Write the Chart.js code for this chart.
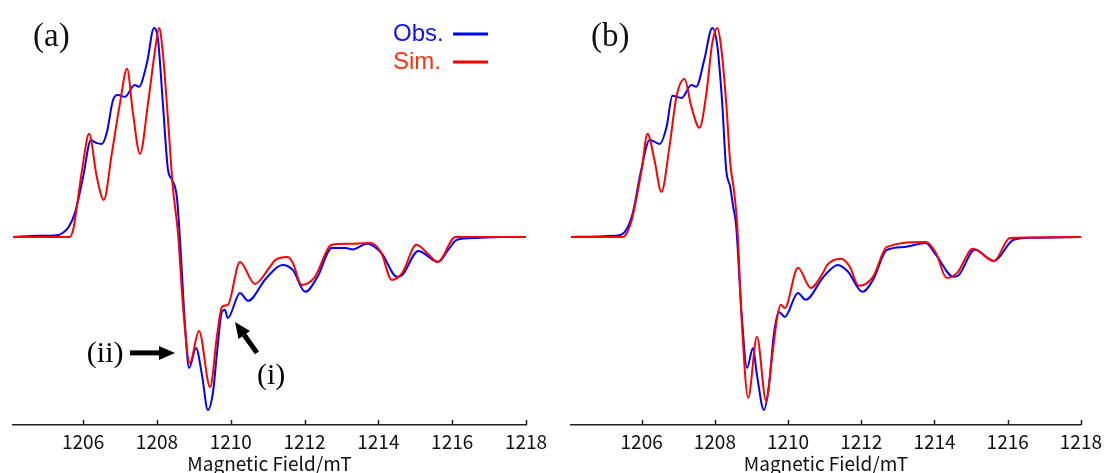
<!DOCTYPE html>
<html lang="en">
<head>
  <meta charset="UTF-8" />
  <title>Spectrum: Obs. vs Sim.</title>
  <script src="https://cdn.jsdelivr.net/npm/chart.js"></script>
  <style>
    body {
      margin: 0;
      background: #fff;
    }
    .wrap {
      position: relative;
      width: 1107px;
      height: 473px;
    }
    .panel {
      position: absolute;
      top: 0;
      height: 473px;
    }
    #pa { left: 0; width: 553px; }
    #pb { left: 553px; width: 554px; }
  </style>
</head>
<body>
  <div class="wrap">
    <div class="panel" id="pa"><canvas id="chartA"></canvas></div>
    <div class="panel" id="pb"><canvas id="chartB"></canvas></div>
  </div>

  <script>
    // field (mT), signal (arb. units, main peak = 1)
    const tickValues = [1206, 1208, 1210, 1212, 1214, 1216, 1218];

    const obsA = [
      [1204.1, 0], [1204.8, 0.005], [1205.3, 0.008], [1205.45, 0.02], [1205.6, 0.045], [1205.78, 0.115],
      [1206.0, 0.287], [1206.21, 0.462], [1206.35, 0.45], [1206.51, 0.445], [1206.64, 0.498], [1206.81, 0.655],
      [1206.94, 0.679], [1207.13, 0.67], [1207.4, 0.727], [1207.51, 0.718], [1207.73, 0.833], [1207.92, 1.0],
      [1208.03, 0.943], [1208.16, 0.641], [1208.3, 0.321], [1208.41, 0.273], [1208.54, 0.19], [1208.62, 0.0],
      [1208.76, -0.42], [1208.87, -0.627], [1209.06, -0.531], [1209.22, -0.66], [1209.38, -0.828], [1209.52, -0.742],
      [1209.63, -0.55], [1209.76, -0.359], [1209.84, -0.349], [1209.92, -0.388], [1210.25, -0.268], [1210.47, -0.306],
      [1210.95, -0.2], [1211.4, -0.134], [1211.68, -0.158], [1212.02, -0.263], [1212.35, -0.191], [1212.74, -0.053],
      [1213.12, -0.053], [1213.3, -0.06], [1213.69, -0.033], [1214.08, -0.077], [1214.51, -0.191], [1214.65, -0.182],
      [1215.08, -0.067], [1215.2, -0.075], [1215.61, -0.12], [1215.9, -0.06], [1216.13, -0.014], [1216.66, -0.005],
      [1217.3, 0], [1218, 0]
    ];

    const simA = [
      [1204.1, 0], [1205.64, 0], [1205.75, 0.05], [1205.83, 0.144], [1206.0, 0.354], [1206.16, 0.493],
      [1206.37, 0.287], [1206.56, 0.177], [1206.78, 0.402], [1207.0, 0.641], [1207.19, 0.804], [1207.35, 0.593],
      [1207.54, 0.397], [1207.76, 0.641], [1207.95, 0.895], [1208.06, 1.0], [1208.16, 0.88], [1208.3, 0.56],
      [1208.43, 0.239], [1208.57, 0.019], [1208.71, -0.34], [1208.89, -0.603], [1209.14, -0.45], [1209.44, -0.718],
      [1209.63, -0.469], [1209.76, -0.335], [1209.92, -0.325], [1210.25, -0.12], [1210.65, -0.225], [1211.06, -0.144],
      [1211.21, -0.11], [1211.54, -0.096], [1211.68, -0.124], [1211.92, -0.23], [1212.26, -0.196], [1212.74, -0.038],
      [1213.2, -0.033], [1213.79, -0.029], [1214.08, -0.077], [1214.36, -0.206], [1214.65, -0.172], [1215.03, -0.038],
      [1215.32, -0.077], [1215.61, -0.12], [1216.09, 0], [1218, 0]
    ];

    const obsB = [
      [1204.07, 0], [1205.27, 0.005], [1205.54, 0.024], [1205.76, 0.115], [1205.97, 0.306], [1206.22, 0.464],
      [1206.49, 0.445], [1206.68, 0.526], [1206.84, 0.675], [1207.09, 0.665], [1207.36, 0.727], [1207.49, 0.718],
      [1207.71, 0.847], [1207.93, 1.0], [1208.07, 0.91], [1208.2, 0.641], [1208.31, 0.321], [1208.42, 0.239],
      [1208.5, 0.144], [1208.58, 0.057], [1208.72, -0.34], [1208.88, -0.627], [1209.04, -0.531], [1209.15, -0.66],
      [1209.34, -0.828], [1209.48, -0.708], [1209.61, -0.469], [1209.75, -0.359], [1209.91, -0.383], [1210.27, -0.268],
      [1210.48, -0.301], [1210.97, -0.191], [1211.36, -0.134], [1211.64, -0.167], [1212.03, -0.263], [1212.32, -0.206],
      [1212.7, -0.062], [1213.18, -0.048], [1213.76, -0.029], [1214.04, -0.086], [1214.52, -0.191], [1214.65, -0.185],
      [1215.1, -0.062], [1215.63, -0.115], [1216.16, -0.014], [1216.7, -0.004], [1218, 0]
    ];

    const simB = [
      [1204.07, 0], [1205.48, 0], [1205.6, 0.02], [1205.73, 0.081], [1206.0, 0.321], [1206.16, 0.493],
      [1206.35, 0.368], [1206.54, 0.215], [1206.76, 0.431], [1206.95, 0.67], [1207.17, 0.756], [1207.36, 0.622],
      [1207.58, 0.522], [1207.77, 0.689], [1207.93, 0.928], [1208.07, 1.0], [1208.17, 0.91], [1208.31, 0.641],
      [1208.42, 0.354], [1208.53, 0.211], [1208.61, 0.057], [1208.74, -0.421], [1208.91, -0.77], [1209.15, -0.478],
      [1209.4, -0.785], [1209.56, -0.579], [1209.7, -0.388], [1209.8, -0.325], [1209.91, -0.34], [1210.27, -0.148],
      [1210.62, -0.244], [1210.97, -0.167], [1211.07, -0.134], [1211.45, -0.105], [1211.69, -0.144], [1211.93, -0.234],
      [1212.32, -0.191], [1212.7, -0.048], [1213.76, -0.024], [1214.04, -0.077], [1214.33, -0.196], [1214.62, -0.172],
      [1215.05, -0.057], [1215.63, -0.115], [1216.06, -0.005], [1218, 0]
    ];

    const OBS_COLOR = '#0000ff';
    const SIM_COLOR = '#ff0000';
    const AXIS_COLOR = '#222';
    const AXIS_FONT = '"Noto Sans CJK JP", "Noto Sans", sans-serif';
    const SERIF = '"Liberation Serif", "DejaVu Serif", serif';

    // ticks pointing up into the plot, like the original
    const inwardTicks = {
      id: 'inwardTicks',
      afterDraw(chart) {
        const sx = chart.scales.x, ctx = chart.ctx;
        ctx.save();
        ctx.strokeStyle = AXIS_COLOR;
        ctx.lineWidth = 1.5;
        tickValues.forEach(v => {
          const px = Math.round(sx.getPixelForValue(v)) + 0.5;
          ctx.beginPath();
          ctx.moveTo(px, sx.top);
          ctx.lineTo(px, sx.top - 5);
          ctx.stroke();
        });
        ctx.restore();
      }
    };

    function panelLabel(text) {
      return {
        id: 'panelLabel',
        afterDraw(chart) {
          const ctx = chart.ctx;
          ctx.save();
          ctx.font = '33px ' + SERIF;
          ctx.fillStyle = '#111';
          ctx.textBaseline = 'middle';
          ctx.fillText(text, chart.chartArea.left + 20, 37);
          ctx.restore();
        }
      };
    }

    const legendA = {
      id: 'legendA',
      afterDraw(chart) {
        const ctx = chart.ctx;
        ctx.save();
        ctx.font = '24px "Liberation Sans", Arial, sans-serif';
        ctx.textBaseline = 'middle';
        [['Obs.', OBS_COLOR, '#1010ff', 34], ['Sim.', SIM_COLOR, '#ff3010', 62]].forEach(([t, lc, tc, y]) => {
          ctx.fillStyle = tc;
          ctx.fillText(t, 393, y);
          ctx.strokeStyle = lc;
          ctx.lineWidth = 3;
          ctx.beginPath();
          ctx.moveTo(453, y);
          ctx.lineTo(488, y);
          ctx.stroke();
        });
        ctx.restore();
      }
    };

    function drawArrow(ctx, x1, y1, x2, y2) {
      const ang = Math.atan2(y2 - y1, x2 - x1), head = 16, half = 7;
      const bx = x2 - head * Math.cos(ang), by = y2 - head * Math.sin(ang);
      ctx.lineWidth = 5;
      ctx.beginPath();
      ctx.moveTo(x1, y1);
      ctx.lineTo(bx, by);
      ctx.stroke();
      ctx.beginPath();
      ctx.moveTo(x2, y2);
      ctx.lineTo(bx + half * Math.sin(ang), by - half * Math.cos(ang));
      ctx.lineTo(bx - half * Math.sin(ang), by + half * Math.cos(ang));
      ctx.closePath();
      ctx.fill();
    }

    // (i) / (ii) markers, placed in field/signal units
    const markersA = {
      id: 'markersA',
      afterDraw(chart) {
        const sx = chart.scales.x, sy = chart.scales.y, ctx = chart.ctx;
        const X = v => sx.getPixelForValue(v), Y = v => sy.getPixelForValue(v);
        ctx.save();
        ctx.fillStyle = '#000';
        ctx.strokeStyle = '#000';
        ctx.font = '30px ' + SERIF;
        ctx.textBaseline = 'middle';
        ctx.fillText('(ii)', X(1206.1), Y(-0.56));
        ctx.fillText('(i)', X(1210.71), Y(-0.665));
        drawArrow(ctx, X(1207.27), Y(-0.555), X(1208.49), Y(-0.555));
        drawArrow(ctx, X(1210.71), Y(-0.555), X(1210.115), Y(-0.407));
        ctx.restore();
      }
    };

    function toPoints(arr) {
      return arr.map(([x, y]) => ({ x, y }));
    }

    function createPanel(id, obs, sim, xMin, pad, extraPlugins) {
      return new Chart(document.getElementById(id), {
        type: 'line',
        data: {
          datasets: [
            { label: 'Obs.', data: toPoints(obs), borderColor: OBS_COLOR, borderWidth: 2, order: 1 },
            { label: 'Sim.', data: toPoints(sim), borderColor: SIM_COLOR, borderWidth: 2, order: 0 }
          ]
        },
        options: {
          responsive: true,
          maintainAspectRatio: false,
          animation: false,
          parsing: false,
          layout: { padding: pad },
          elements: {
            point: { radius: 0 },
            line: { cubicInterpolationMode: 'monotone', fill: false }
          },
          plugins: {
            legend: { display: false },
            tooltip: { enabled: false }
          },
          scales: {
            x: {
              type: 'linear',
              min: xMin,
              max: 1218,
              afterBuildTicks: s => { s.ticks = tickValues.map(v => ({ value: v })); },
              afterFit: s => { s.height = 48; },
              grid: { display: true, drawOnChartArea: false, drawTicks: false },
              border: { display: true, color: AXIS_COLOR, width: 1.5 },
              ticks: {
                padding: 5,
                maxRotation: 0,
                color: '#111',
                font: { family: AXIS_FONT, size: 19 },
                callback: v => String(v)
              },
              title: {
                display: true,
                text: 'Magnetic Field/mT',
                color: '#111',
                padding: 0,
                font: { family: AXIS_FONT, size: 19, lineHeight: 1 }
              }
            },
            y: {
              display: false,
              min: -0.9,
              max: 1.1
            }
          }
        },
        plugins: [inwardTicks].concat(extraPlugins)
      });
    }

    createPanel('chartA', obsA, simA, 1204.1,
      { left: 13, right: 27, top: 7, bottom: 0 },
      [panelLabel('(a)'), legendA, markersA]);

    createPanel('chartB', obsB, simB, 1204.07,
      { left: 18, right: 24, top: 7, bottom: 0 },
      [panelLabel('(b)')]);
  </script>
</body>
</html>
